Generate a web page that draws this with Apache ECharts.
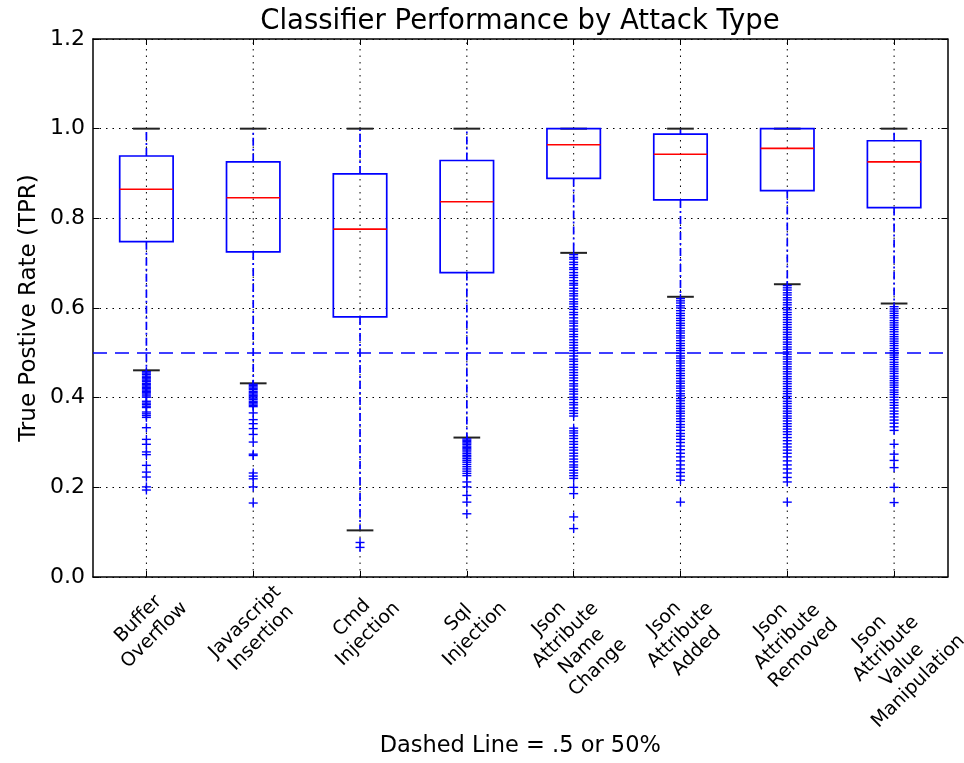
<!DOCTYPE html>
<html><head><meta charset="utf-8">
<script src="https://cdn.jsdelivr.net/npm/echarts@6/dist/echarts.min.js"></script>
<style>html,body{margin:0;padding:0;background:#fff}#c{width:964px;height:763px}</style>
</head><body><div id="c"></div>
<script>
// ---------------- data ----------------
const categories = [
  'Buffer\nOverflow', 'Javascript\nInsertion', 'Cmd\nInjection', 'Sql\nInjection',
  'Json\nAttribute\nName\nChange', 'Json\nAttribute\nAdded', 'Json\nAttribute\nRemoved',
  'Json\nAttribute\nValue\nManipulation'
];
const whiskerLow  = [0.461, 0.432, 0.104, 0.311, 0.723, 0.625, 0.653, 0.610];
const q1          = [0.748, 0.725, 0.580, 0.679, 0.889, 0.841, 0.862, 0.824];
const median      = [0.865, 0.846, 0.776, 0.837, 0.964, 0.943, 0.956, 0.926];
const q3          = [0.939, 0.926, 0.899, 0.929, 1.000, 0.988, 1.000, 0.973];
const whiskerHigh = [1.0, 1.0, 1.0, 1.0, 1.0, 1.0, 1.0, 1.0];

const fliersBufferOverflow = [0.458,0.455,0.452,0.448,0.445,0.442,0.439,0.436,0.432,0.429,0.426,0.423,0.42,0.417,0.414,0.411,0.408,0.404,0.401,
  0.392,0.388,0.385,0.381,0.378,0.368,0.364,0.36,0.356,0.333,0.307,0.296,0.279,0.273,0.249,0.234,0.223,0.201,0.194];
const fliersJavascriptInsertion = [0.43,0.427,0.424,0.421,0.418,0.414,0.411,0.408,0.405,0.402,0.399,0.396,0.392,0.389,0.386,0.383,0.38,
  0.366,0.351,0.342,0.331,0.318,0.301,0.274,0.271,0.232,0.225,0.219,0.201,0.165];
const fliersCmdInjection = [0.077, 0.066];
const fliersSqlInjection = [0.308,0.305,0.302,0.299,0.296,0.292,0.289,0.286,0.283,0.279,0.275,0.271,0.268,0.264,0.26,0.256,0.251,0.246,
  0.241,0.236,0.231,0.226,0.212,0.201,0.182,0.167,0.141];
const fliersJsonNameChange = [0.719,0.713,0.709,0.702,0.697,0.69,0.686,0.679,0.673,0.668,0.661,0.655,0.651,0.644,0.638,0.632,0.627,0.62,
  0.614,0.609,0.603,0.597,0.59,0.585,0.578,0.571,0.566,0.56,0.553,0.548,0.541,0.536,0.529,0.523,0.517,0.511,0.505,0.499,0.493,0.486,
  0.481,0.474,0.468,0.462,0.456,0.45,0.444,0.438,0.431,0.426,0.419,0.414,0.408,0.401,0.396,0.389,0.384,0.377,0.371,0.365,0.359,
  0.332,0.326,0.321,0.315,0.309,0.302,0.296,0.289,0.283,0.276,0.27,0.263,0.257,0.25,0.245,0.238,0.232,0.226,0.22,0.2,0.186,0.134,0.108];
const fliersJsonAdded = [0.621,0.616,0.611,0.605,0.6,0.594,0.588,0.583,0.577,0.572,0.566,0.561,0.555,0.549,0.544,0.538,0.533,0.527,0.521,
  0.516,0.51,0.505,0.499,0.493,0.488,0.482,0.477,0.471,0.465,0.46,0.454,0.449,0.443,0.437,0.432,0.426,0.421,0.415,0.409,0.404,0.398,
  0.393,0.387,0.381,0.376,0.37,0.365,0.359,0.353,0.347,0.34,0.334,0.327,0.32,0.314,0.307,0.3,0.292,0.284,0.276,0.268,0.259,0.25,
  0.241,0.233,0.225,0.216,0.167];
const fliersJsonRemoved = [0.65,0.645,0.64,0.634,0.629,0.623,0.618,0.612,0.607,0.601,0.596,0.59,0.585,0.579,0.574,0.568,0.563,0.557,
  0.552,0.546,0.541,0.535,0.53,0.524,0.519,0.513,0.508,0.502,0.497,0.491,0.486,0.48,0.475,0.469,0.464,0.458,0.453,0.447,0.442,0.436,
  0.431,0.425,0.42,0.414,0.409,0.403,0.398,0.392,0.387,0.381,0.376,0.37,0.365,0.359,0.354,0.348,0.342,0.336,0.33,0.324,0.318,0.311,
  0.304,0.297,0.29,0.283,0.276,0.268,0.259,0.25,0.241,0.232,0.222,0.212,0.167];
const fliersJsonValueManipulation = [0.603,0.598,0.593,0.588,0.583,0.578,0.572,0.567,0.562,0.557,0.552,0.547,0.541,0.536,0.531,0.526,
  0.521,0.516,0.51,0.505,0.5,0.495,0.49,0.485,0.479,0.474,0.469,0.464,0.459,0.454,0.448,0.443,0.438,0.433,0.428,0.423,0.417,0.412,
  0.407,0.401,0.395,0.389,0.383,0.377,0.37,0.364,0.357,0.35,0.343,0.335,0.327,0.296,0.274,0.26,0.244,0.2,0.166];
const fliers = [fliersBufferOverflow, fliersJavascriptInsertion, fliersCmdInjection, fliersSqlInjection,
  fliersJsonNameChange, fliersJsonAdded, fliersJsonRemoved, fliersJsonValueManipulation];

const threshold = 0.5;
const yMin = 0, yMax = 1.2, yStep = 0.2;
const titleText = 'Classifier Performance by Attack Type';
const yName = 'True Postive Rate (TPR)';
const xName = 'Dashed Line = .5 or 50%';

// ---------------- build ----------------
const FONT = 'DejaVu Sans';
const LABEL_SIZE = 19, LABEL_LH = 23, LABEL_PAD = 4;
const ctx = document.createElement('canvas').getContext('2d');
ctx.font = LABEL_SIZE + 'px "' + FONT + '"';
// distance of each rotated label's centre below the axis (label box top sits LABEL_PAD below the axis)
const labelDrop = categories.map(function (c) {
  const lines = c.split('\n');
  let w = 0;
  lines.forEach(function (l) { w = Math.max(w, ctx.measureText(l).width); });
  const h = lines.length * LABEL_LH;
  return LABEL_PAD + (w + h) * Math.SQRT1_2 / 2;
});

const boxData = categories.map(function (c, i) {
  return [i, whiskerLow[i], q1[i], median[i], q3[i], whiskerHigh[i]];
});
const flierData = [];
fliers.forEach(function (arr, i) { arr.forEach(function (v) { flierData.push([i, v]); }); });
const labelData = categories.map(function (c, i) { return [i, yMin]; });

const BLUE = '#0000ff';
function renderBox(params, api) {
  const i = api.value(0);
  const band = api.size([1, 0])[0];
  const lo = api.coord([i, api.value(1)]);
  const b1 = api.coord([i, api.value(2)]);
  const md = api.coord([i, api.value(3)]);
  const b3 = api.coord([i, api.value(4)]);
  const hi = api.coord([i, api.value(5)]);
  const g0 = api.coord([i, yMin]);
  const g1 = api.coord([i, yMax]);
  const x = lo[0];
  const bw = band * 0.5, cw = band * 0.25;
  const dash = [8, 3, 2, 3];
  return {
    type: 'group',
    children: [
      { type: 'line', shape: { x1: x, y1: g0[1], x2: x, y2: g1[1] },
        style: { stroke: '#000', lineWidth: 1, lineDash: [1.5, 5] } },
      { type: 'line', shape: { x1: x, y1: b1[1], x2: x, y2: lo[1] },
        style: { stroke: BLUE, lineWidth: 1.7, lineDash: dash } },
      { type: 'line', shape: { x1: x, y1: b3[1], x2: x, y2: hi[1] },
        style: { stroke: BLUE, lineWidth: 1.7, lineDash: dash } },
      { type: 'line', shape: { x1: x - cw / 2, y1: lo[1], x2: x + cw / 2, y2: lo[1] },
        style: { stroke: '#222', lineWidth: 2 } },
      { type: 'line', shape: { x1: x - cw / 2, y1: hi[1], x2: x + cw / 2, y2: hi[1] },
        style: { stroke: '#222', lineWidth: 2 } },
      { type: 'rect', shape: { x: x - bw / 2, y: b3[1], width: bw, height: b1[1] - b3[1] },
        style: { stroke: BLUE, fill: null, lineWidth: 1.7 } },
      { type: 'line', shape: { x1: x - bw / 2, y1: md[1], x2: x + bw / 2, y2: md[1] },
        style: { stroke: '#ff0000', lineWidth: 1.6 } }
    ]
  };
}
function renderFlier(params, api) {
  const p = api.coord([api.value(0), api.value(1)]);
  const s = 4.5;
  return {
    type: 'group',
    children: [
      { type: 'line', shape: { x1: p[0] - s, y1: p[1], x2: p[0] + s, y2: p[1] }, style: { stroke: BLUE, lineWidth: 1.4 } },
      { type: 'line', shape: { x1: p[0], y1: p[1] - s, x2: p[0], y2: p[1] + s }, style: { stroke: BLUE, lineWidth: 1.4 } }
    ]
  };
}
function renderLabel(params, api) {
  const i = api.value(0);
  const p = api.coord([i, api.value(1)]);
  return {
    type: 'text',
    x: p[0], y: p[1] + labelDrop[i], rotation: Math.PI / 4,
    style: {
      text: categories[i], align: 'center', verticalAlign: 'middle',
      fontFamily: FONT, fontSize: LABEL_SIZE, lineHeight: LABEL_LH, fill: '#000'
    }
  };
}

const axisLine = { show: true, onZero: false, lineStyle: { color: '#000', width: 1.5 } };
const chart = echarts.init(document.getElementById('c'), null, { renderer: 'canvas' });
chart.setOption({
  backgroundColor: '#fff',
  animation: false,
  textStyle: { fontFamily: FONT },
  title: {
    text: titleText, left: 515, top: 3, textAlign: 'center',
    textStyle: { fontFamily: FONT, fontSize: 27.5, fontWeight: 'normal', color: '#000' }
  },
  grid: { left: 93, right: 16.5, top: 39, bottom: 186, containLabel: false, outerBoundsMode: 'none' },
  xAxis: [{
    type: 'category', data: categories, position: 'bottom',
    boundaryGap: true,
    axisLine: axisLine,
    axisTick: { show: true, inside: true, alignWithLabel: true, length: 6, lineStyle: { color: '#000', width: 1 } },
    axisLabel: { show: false },
    splitLine: { show: false },
    name: xName, nameLocation: 'middle', nameGap: 158, nameMoveOverlap: false,
    nameTextStyle: { fontFamily: FONT, fontSize: 22.5, color: '#000', verticalAlign: 'top' }
  }, {
    type: 'category', data: categories, position: 'top',
    boundaryGap: true,
    axisLine: axisLine,
    axisTick: { show: true, inside: true, alignWithLabel: true, length: 6, lineStyle: { color: '#000', width: 1 } },
    axisLabel: { show: false }, splitLine: { show: false }
  }],
  yAxis: [{
    type: 'value', min: yMin, max: yMax, interval: yStep, position: 'left',
    axisLine: axisLine,
    axisTick: { show: true, inside: true, length: 6, lineStyle: { color: '#000', width: 1 } },
    axisLabel: { formatter: function (v) { return v.toFixed(1); }, fontFamily: FONT, fontSize: 22, color: '#000', margin: 8 },
    splitLine: { show: true, lineStyle: { color: '#000', width: 1, type: [1.5, 5] } },
    name: yName, nameLocation: 'middle', nameGap: 52, nameRotate: 90, nameMoveOverlap: false,
    nameTextStyle: { fontFamily: FONT, fontSize: 23, color: '#000' }
  }, {
    type: 'value', min: yMin, max: yMax, interval: yStep, position: 'right',
    axisLine: axisLine,
    axisTick: { show: true, inside: true, length: 6, lineStyle: { color: '#000', width: 1 } },
    axisLabel: { show: false }, splitLine: { show: false }
  }],
  series: [{
    type: 'custom', name: 'boxes', xAxisIndex: 0, yAxisIndex: 0,
    renderItem: renderBox, data: boxData, encode: { x: 0, y: [1, 2, 3, 4, 5] }, z: 3,
    markLine: {
      silent: true, symbol: ['none', 'none'], label: { show: false },
      lineStyle: { color: BLUE, width: 1.6, type: [14, 8] },
      data: [{ yAxis: threshold }]
    }
  }, {
    type: 'custom', name: 'fliers', xAxisIndex: 0, yAxisIndex: 0,
    renderItem: renderFlier, data: flierData, encode: { x: 0, y: 1 }, z: 4
  }, {
    type: 'custom', name: 'labels', xAxisIndex: 0, yAxisIndex: 0, clip: false, silent: true,
    renderItem: renderLabel, data: labelData, encode: { x: 0, y: 1 }, z: 5
  }]
});
</script>
</body></html>
